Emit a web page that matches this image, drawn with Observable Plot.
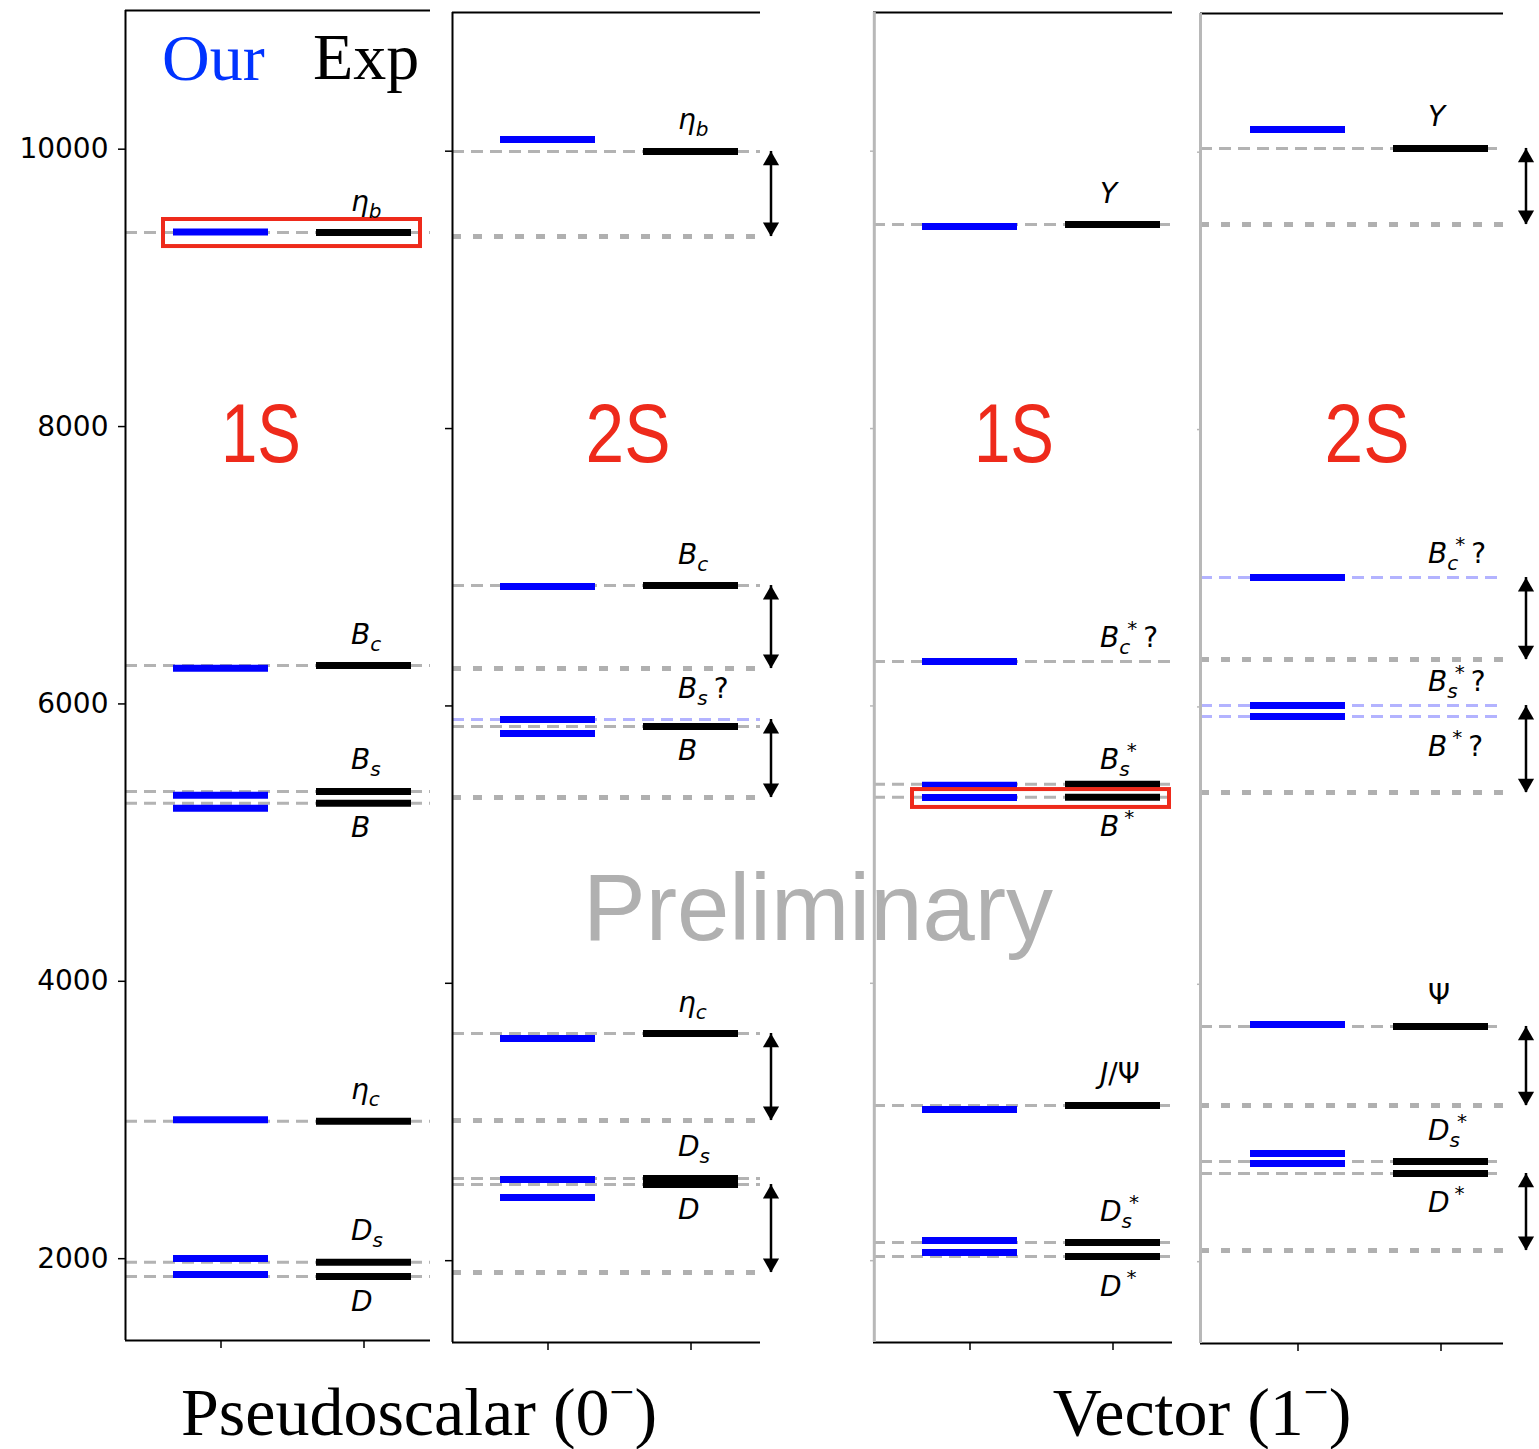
<!DOCTYPE html>
<html>
<head>
<meta charset="utf-8">
<script src="https://cdn.jsdelivr.net/npm/d3@7"></script>
<script src="https://cdn.jsdelivr.net/npm/@observablehq/plot@0.6"></script>
<style>
  html, body { margin: 0; padding: 0; background: #fff; }
  #root { position: relative; width: 1539px; height: 1449px; overflow: hidden; background: #fff; }
  #root svg.panel { position: absolute; overflow: visible; max-width: none; }
  #overlay { position: absolute; left: 0; top: 0; pointer-events: none; }
</style>
</head>
<body>
<div id="root"></div>
<script>
// ---------------- data ----------------
const yTicks = [2000, 4000, 6000, 8000, 10000];
const massDomain = [1410, 11000];
const columns = ["Our", "Exp"];

// panels: 0 = pseudoscalar 1S, 1 = pseudoscalar 2S, 2 = vector 1S, 3 = vector 2S
const levelPanel = [0, 0, 0, 0, 0, 0, 0,
                    1, 1, 1, 1, 1, 1, 1,
                    2, 2, 2, 2, 2, 2, 2,
                    3, 3, 3, 3, 3, 3, 3];
const levelLabel = ["η_b", "B_c", "B_s", "B", "η_c", "D_s", "D",
                    "η_b", "B_c", "B_s?", "B", "η_c", "D_s", "D",
                    "Υ", "B_c^*?", "B_s^*", "B^*", "J/Ψ", "D_s^*", "D^*",
                    "Υ", "B_c^*?", "B_s^*?", "B^*?", "Ψ", "D_s^*", "D^*"];
const ourMass = [9402, 6258, 5342, 5248, 3001, 2001, 1886,
                 10084, 6861, 5902, 5801, 3602, 2585, 2456,
                 9457, 6320, 5428, 5340, 3090, 2146, 2059,
                 10164, 6933, 6010, 5931, 3710, 2780, 2708];
const expMass = [9399, 6277, 5369, 5284, 2991, 1975, 1871,
                 9998, 6868, null, 5852, 3638, 2593, 2549,
                 9471, null, 5435, 5342, 3119, 2131, 2030,
                 10027, null, null, null, 3696, 2722, 2636];
// predicted-only states shown with a light blue guide line
const tentative = [false, false, false, false, false, false, false,
                   false, false, true, false, false, false, false,
                   false, false, false, false, false, false, false,
                   false, true, true, true, false, false, false];

// 2S - 1S splitting arrows (upper level -> 1S reference)
const arrowPanel = [1, 1, 1, 1, 1, 3, 3, 3, 3, 3];
const arrowHigh  = [9998, 6868, 5902, 3638, 2549, 10027, 6933, 6010, 3696, 2636];
const arrowLow   = [9385, 6270, 5340, 3011, 1915, 9479, 6342, 5383, 3126, 2081];

// highlighted states (red boxes)
const boxPanel = [0, 2];
const boxHigh  = [9493, 5397];
const boxLow   = [9298, 5268];

// ---------------- derived tables ----------------
const levels = levelLabel.map((label, i) => ({
  panel: levelPanel[i], label, our: ourMass[i], exp: expMass[i],
  ref: expMass[i] ?? ourMass[i], tentative: tentative[i]
}));
levels.forEach(d => {
  d.below = levels.some(o => o !== d && o.panel === d.panel && o.ref > d.ref && o.ref - d.ref < 200);
  d.tight = !d.below && d.label.startsWith("B") && d.label.includes("^");
  d.starred = d.label.includes("^");
});
const arrows = arrowPanel.map((p, i) => ({panel: p, high: arrowHigh[i], low: arrowLow[i]}));
const boxes = boxPanel.map((p, i) => ({panel: p, high: boxHigh[i], low: boxLow[i]}));

// ---------------- layout (pixels) ----------------
const H = 1360;
const PAD = 48 / 143;
const layout = [
  {left: 0,    top: 0, width: 440, ml: 125, mr: 10, r0: 48, r1: 286, spine: "black", labels: true,  arrowDx: 80},
  {left: 440,  top: 2, width: 360, ml: 12,  mr: 40, r0: 48, r1: 286, spine: "black", labels: false, arrowDx: 80},
  {left: 860,  top: 2, width: 330, ml: 13,  mr: 18, r0: 48, r1: 287, spine: "gray",  labels: false, arrowDx: 80},
  {left: 1190, top: 3, width: 349, ml: 10,  mr: 36, r0: 50, r1: 288, spine: "gray",  labels: false, arrowDx: 85}
];
const GRAY = "#b3b3b3", LBLUE = "#b3b3ff", BLUE = "#0000ff", RED = "#ee2a1b";

function rich(el) {
  const s = el.textContent;
  while (el.firstChild) el.removeChild(el.firstChild);
  const NS = "http://www.w3.org/2000/svg";
  let cur = 0, prev = "base", i = 0;
  while (i < s.length) {
    let kind = "base", ch = s[i];
    if (ch === "_" || ch === "^") { kind = ch === "_" ? "sub" : "sup"; ch = s[i + 1]; i += 2; } else i += 1;
    const target = kind === "sub" ? 7 : kind === "sup" ? -12 : 0;
    const t = document.createElementNS(NS, "tspan");
    t.textContent = ch;
    t.setAttribute("dy", target - cur);
    cur = target;
    if (kind !== "base") t.setAttribute("font-size", "20");
    if (kind === "sup") t.setAttribute("dx", prev === "sub" ? "-3" : "5");
    if (ch === "?") t.setAttribute("dx", "6");
    if ("?/Ψ".includes(ch)) t.setAttribute("font-style", "normal");
    el.appendChild(t);
    prev = kind;
  }
}

const root = document.getElementById("root");

layout.forEach((L, p) => {
  const lv = levels.filter(d => d.panel === p);
  const ar = arrows.filter(d => d.panel === p);
  const bx = boxes.filter(d => d.panel === p);
  const gray = L.spine === "gray";
  const bw = (L.r1 - L.r0) / (2 - PAD) * (1 - PAD);
  const spineDx = -(L.r0 + bw / 2);
  const labelOpts = {x: () => "Exp", y: "ref", text: "label", textAnchor: "start", dx: -13,
                     lineAnchor: "bottom", fontSize: 28, fontStyle: "italic", fill: "black"};
  const chart = Plot.plot({
    width: L.width, height: H,
    marginLeft: L.ml, marginRight: L.mr, marginTop: 10, marginBottom: H - 1340,
    style: {fontFamily: "DejaVu Sans", background: "transparent", overflow: "visible"},
    x: {type: "band", domain: columns, range: [L.ml + L.r0, L.ml + L.r1], paddingInner: PAD, paddingOuter: 0},
    y: {domain: massDomain},
    marks: [
      // threshold (1S reference) lines
      Plot.ruleY(ar, {y: "low", stroke: "#b0b0b0", strokeWidth: 5, strokeDasharray: "9,12"}),
      // guide lines
      Plot.ruleY(lv.filter(d => !d.tentative), {y: "ref", stroke: GRAY, strokeWidth: 3, strokeDasharray: "12,7"}),
      Plot.ruleY(lv.filter(d => d.tentative), {y: "ref", stroke: LBLUE, strokeWidth: 3, strokeDasharray: "12,7"}),
      // levels
      Plot.tickY(lv, {x: () => "Our", y: "our", stroke: BLUE, strokeWidth: 7}),
      Plot.tickY(lv.filter(d => d.exp != null), {x: () => "Exp", y: "exp", stroke: "black", strokeWidth: 7}),
      // highlight boxes
      Plot.rect(bx, {x1: () => "Our", x2: () => "Exp", y1: "low", y2: "high", fill: "none", stroke: RED, strokeWidth: 4, insetLeft: -10, insetRight: -9}),
      // splitting arrows
      Plot.ruleX(ar, {x: () => "Exp", y1: "high", y2: "low", dx: L.arrowDx, stroke: "black", strokeWidth: 2.5}),
      Plot.dot(ar, {x: () => "Exp", y: "high", dx: L.arrowDx, dy: 9.2, symbol: "triangle", r: 6, fill: "black", stroke: "none"}),
      Plot.dot(ar, {x: () => "Exp", y: "low", dx: L.arrowDx, dy: -9.2, symbol: "triangle", rotate: 180, r: 6, fill: "black", stroke: "none"}),
      // labels
      Plot.text(lv.filter(d => !d.below && !d.tight), {...labelOpts, dy: -22}),
      Plot.text(lv.filter(d => d.tight), {...labelOpts, dy: -15}),
      Plot.text(lv.filter(d => d.below && !d.starred), {...labelOpts, dy: 34}),
      Plot.text(lv.filter(d => d.below && d.starred), {...labelOpts, dy: 39}),
      // axes and spines
      Plot.axisX({anchor: "bottom", tickSize: 8, tickFormat: () => "", strokeWidth: 1.5, label: null}),
      Plot.axisY({anchor: "left", ticks: yTicks, tickSize: gray ? 3 : 7, tickPadding: 10,
                  tickFormat: L.labels ? (d => String(d)) : () => "",
                  stroke: gray ? "#b8b8b8" : "black", strokeWidth: 1.5,
                  fontSize: 28, label: null}),
      Plot.ruleY([massDomain[1]], {stroke: "black", strokeWidth: 2}),
      Plot.ruleY([massDomain[0]], {stroke: "black", strokeWidth: 2}),
      Plot.ruleX([columns[0]], {dx: spineDx, stroke: gray ? "#b8b8b8" : "black", strokeWidth: gray ? 3 : 2})
    ]
  });
  chart.classList.add("panel");
  chart.style.left = L.left + "px";
  chart.style.top = L.top + "px";
  chart.querySelectorAll('g[aria-label="text"] text').forEach(rich);
  root.appendChild(chart);
});

// ---------------- overlay annotations ----------------
const ov = d3.select(root).append("svg").attr("id", "overlay").attr("width", 1539).attr("height", 1449);
ov.append("text").attr("x", 162).attr("y", 80).attr("font-family", "Liberation Serif").attr("font-size", 66).attr("fill", "#0033ff").text("Our");
ov.append("text").attr("x", 313).attr("y", 79).attr("font-family", "Liberation Serif").attr("font-size", 66).attr("fill", "black").text("Exp");
const stateTags = [["1S", 261], ["2S", 628], ["1S", 1014], ["2S", 1367]];
stateTags.forEach(([t, x]) => ov.append("text").attr("x", x).attr("y", 462).attr("text-anchor", "middle")
  .attr("font-family", "Liberation Sans").attr("font-size", 84)
  .attr("textLength", t === "1S" ? 80 : 85).attr("lengthAdjust", "spacingAndGlyphs")
  .attr("fill", RED).text(t));
ov.append("text").attr("x", 818).attr("y", 940).attr("text-anchor", "middle").attr("font-family", "Liberation Sans")
  .attr("font-size", 94).attr("fill", "#b0b0b0").text("Preliminary");
[["Pseudoscalar (0", 419], ["Vector (1", 1202]].forEach(([t, x]) => {
  const tx = ov.append("text").attr("x", x).attr("y", 1435).attr("text-anchor", "middle")
    .attr("font-family", "Liberation Serif").attr("font-size", 68).attr("fill", "black");
  tx.append("tspan").text(t);
  tx.append("tspan").attr("font-size", 44).attr("dy", -28).text("−");
  tx.append("tspan").attr("dy", 28).text(")");
});
</script>
</body>
</html>
